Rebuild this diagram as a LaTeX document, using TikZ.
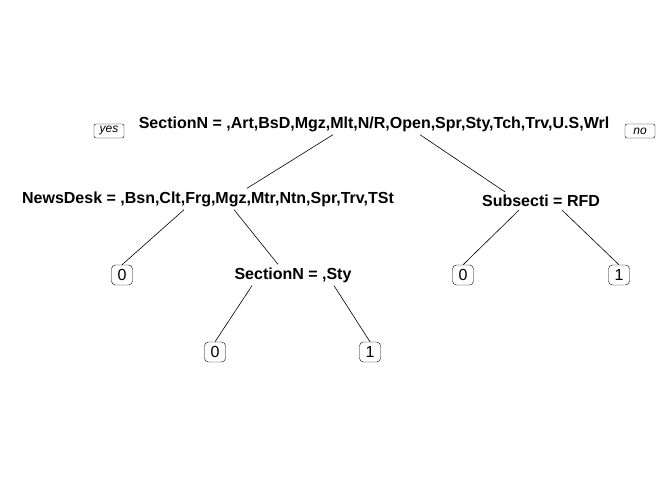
\documentclass[tikz,border=0pt]{standalone}
\usepackage{fontspec}
\setmainfont{Liberation Sans}
\usetikzlibrary{positioning}

\tikzset{
  split/.style={font=\bfseries\fontsize{16}{18}\selectfont, inner sep=3pt},
  leaf/.style={draw, rounded corners=4pt, font=\fontsize{16}{18}\selectfont,
    minimum width=21pt, minimum height=20pt, inner sep=1pt},
  tag/.style={draw, rounded corners=2pt, font=\itshape\fontsize{12}{14}\selectfont,
    minimum width=30pt, minimum height=14pt, inner sep=1pt},
  branch/.style={line width=0.6pt}
}

\begin{document}
\begin{tikzpicture}[x=1pt, y=-1pt]
  \useasboundingbox (0,0) rectangle (672,480);

% split nodes
\node[split] (root) at (374,124) {SectionN = ,Art,BsD,Mgz,Mlt,N/R,Open,Spr,Sty,Tch,Trv,U.S,Wrl};
\node[split] (news) at (208,199) {NewsDesk = ,Bsn,Clt,Frg,Mgz,Mtr,Ntn,Spr,Trv,TSt};
\node[split] (subs) at (541,201) {Subsecti = RFD};
\node[split] (sty) at (293,275) {SectionN = ,Sty};

% yes / no tags
\node[tag] (yes) at (109,131) {yes};
\node[tag] (no) at (640,131) {no};

% leaves
\node[leaf] (l1) at (122,275) {0};
\node[leaf] (l2) at (463,275) {0};
\node[leaf] (l3) at (619,275) {1};
\node[leaf] (l4) at (215,352) {0};
\node[leaf] (l5) at (370,352) {1};

% branches
\draw[branch] ([xshift=-41pt]root.south) -- ([xshift=39pt]news.north);
\draw[branch] ([xshift=46pt]root.south) -- ([xshift=-36pt]subs.north);
\draw[branch] ([xshift=-24pt]news.south) -- (l1.north);
\draw[branch] ([xshift=26pt]news.south) -- ([xshift=-15pt]sty.north);
\draw[branch] ([xshift=-22pt]subs.south) -- (l2.north);
\draw[branch] ([xshift=21pt]subs.south) -- (l3.north);
\draw[branch] ([xshift=-41pt]sty.south) -- (l4.north);
\draw[branch] ([xshift=41pt]sty.south) -- (l5.north);

\end{tikzpicture}
\end{document}
